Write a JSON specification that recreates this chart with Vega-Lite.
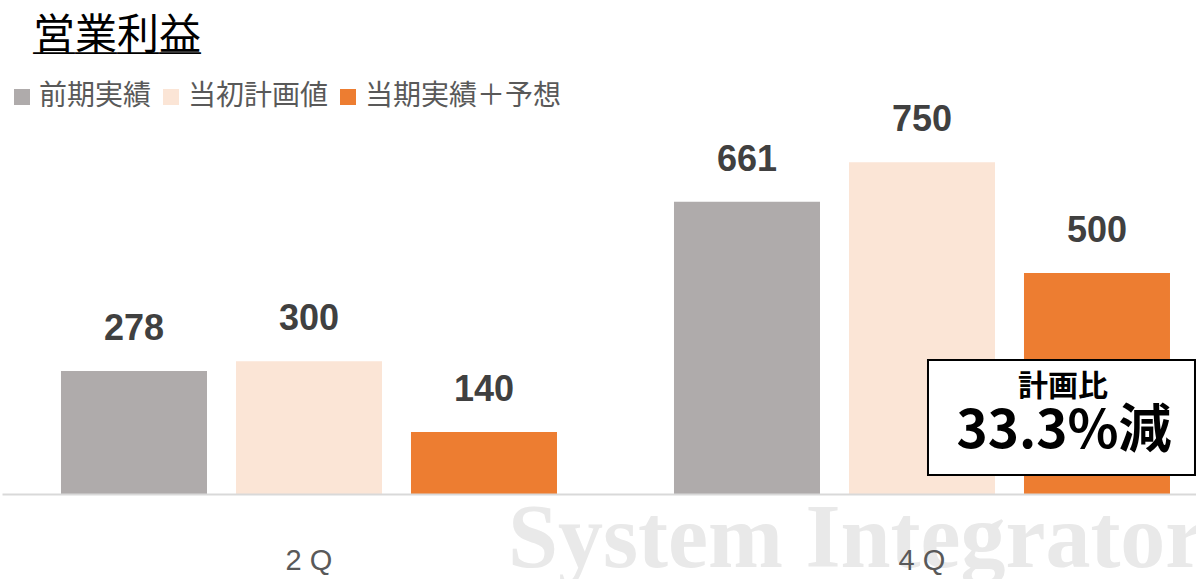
{
  "$schema": "https://vega.github.io/schema/vega-lite/v6.json",
  "width": 1194,
  "height": 398,
  "autosize": {"type": "none"},
  "padding": {"left": 2, "top": 96, "right": 0, "bottom": 85},
  "background": "white",
  "title": {
    "text": "営業利益",
    "subtitle": "＿＿＿＿",
    "anchor": "start",
    "frame": "group",
    "font": "Noto Sans CJK JP",
    "fontSize": 42,
    "fontWeight": "normal",
    "color": "#000000",
    "subtitleFont": "Noto Sans CJK JP",
    "subtitleFontSize": 42,
    "subtitleColor": "#000000",
    "subtitlePadding": -42,
    "dx": 31,
    "offset": 25
  },
  "config": {
    "view": {"stroke": null},
    "axisX": {
      "labelAngle": 0, "ticks": false,
      "domainColor": "#d9d9d9", "domainWidth": 2,
      "labelFont": "Liberation Sans", "labelFontSize": 29, "labelColor": "#595959",
      "labelPadding": 52, "labelExpr": "join(split(datum.label, ''), ' ')"
    }
  },
  "layer": [
    {
      "data": {"values": [{"q": "4Q", "text": "System Integrator", "base": 0}]},
      "mark": {"type": "text", "align": "left", "baseline": "alphabetic", "dx": -414, "dy": 73, "font": "Liberation Serif", "fontWeight": "bold", "fontSize": 90, "color": "#e9e9e9"},
      "encoding": {
        "x": {"field": "q", "type": "nominal", "sort": ["2Q", "4Q"], "title": null, "axis": {"zindex": 1}},
        "y": {"field": "base", "type": "quantitative", "axis": null},
        "text": {"field": "text"}
      }
    },
    {
      "data": {"values": [
        {"q": "2Q", "series": "前期実績", "value": 278},
        {"q": "2Q", "series": "当初計画値", "value": 300},
        {"q": "2Q", "series": "当期実績＋予想", "value": 140},
        {"q": "4Q", "series": "前期実績", "value": 661},
        {"q": "4Q", "series": "当初計画値", "value": 750},
        {"q": "4Q", "series": "当期実績＋予想", "value": 500}
      ]},
      "encoding": {
        "x": {
          "field": "q", "type": "nominal", "sort": ["2Q", "4Q"], "title": null, "axis": {"zindex": 1},
          "scale": {"paddingInner": 0.106, "paddingOuter": 0.0269, "align": 1}
        },
        "xOffset": {
          "field": "series", "type": "nominal",
          "sort": ["前期実績", "当初計画値", "当期実績＋予想"],
          "scale": {"paddingInner": 0.1657, "paddingOuter": 0.1486}
        },
        "y": {
          "field": "value", "type": "quantitative",
          "scale": {"domain": [0, 900], "nice": false, "zero": true},
          "axis": null
        }
      },
      "layer": [
        {
          "mark": {"type": "bar"},
          "encoding": {
            "color": {
              "field": "series", "type": "nominal",
              "scale": {"domain": ["前期実績", "当初計画値", "当期実績＋予想"], "range": ["#AFABAB", "#FBE5D6", "#ED7D31"]},
              "legend": {
                "title": null, "orient": "none", "direction": "horizontal",
                "legendX": 6, "legendY": -13,
                "symbolType": "square", "symbolSize": 256, "symbolStrokeWidth": 0,
                "labelFont": "Noto Sans CJK JP", "labelFontSize": 28, "labelColor": "#595959",
                "labelOffset": 3, "columnPadding": 5, "labelLimit": 300
              }
            }
          }
        },
        {
          "mark": {"type": "text", "baseline": "alphabetic", "dy": -31, "font": "Liberation Sans", "fontWeight": "bold", "fontSize": 36, "color": "#404040"},
          "encoding": {"text": {"field": "value", "type": "quantitative"}}
        }
      ]
    },
    {
      "data": {"values": [{"q": "4Q", "y0": 43, "y1": 303}]},
      "mark": {"type": "bar", "width": 267, "xOffset": 139.5, "fill": "white", "stroke": "black", "strokeWidth": 2},
      "encoding": {
        "x": {"field": "q", "type": "nominal", "sort": ["2Q", "4Q"], "title": null, "axis": {"zindex": 1}},
        "y": {"field": "y0", "type": "quantitative", "axis": null},
        "y2": {"field": "y1"}
      }
    },
    {
      "data": {"values": [{"q": "4Q", "label": "計画比", "pos": 242}]},
      "mark": {"type": "text", "baseline": "middle", "dx": 141, "font": "Noto Sans CJK JP", "fontWeight": "bold", "fontSize": 30, "color": "#000000"},
      "encoding": {
        "x": {"field": "q", "type": "nominal", "sort": ["2Q", "4Q"], "title": null, "axis": {"zindex": 1}},
        "y": {"field": "pos", "type": "quantitative", "axis": null},
        "text": {"field": "label"}
      }
    },
    {
      "data": {"values": [{"q": "4Q", "label": "33.3%減", "pos": 141}]},
      "mark": {"type": "text", "baseline": "middle", "dx": 142, "font": "Noto Sans CJK JP", "fontWeight": "bold", "fontSize": 53, "color": "#000000"},
      "encoding": {
        "x": {"field": "q", "type": "nominal", "sort": ["2Q", "4Q"], "title": null, "axis": {"zindex": 1}},
        "y": {"field": "pos", "type": "quantitative", "axis": null},
        "text": {"field": "label"}
      }
    }
  ]
}
